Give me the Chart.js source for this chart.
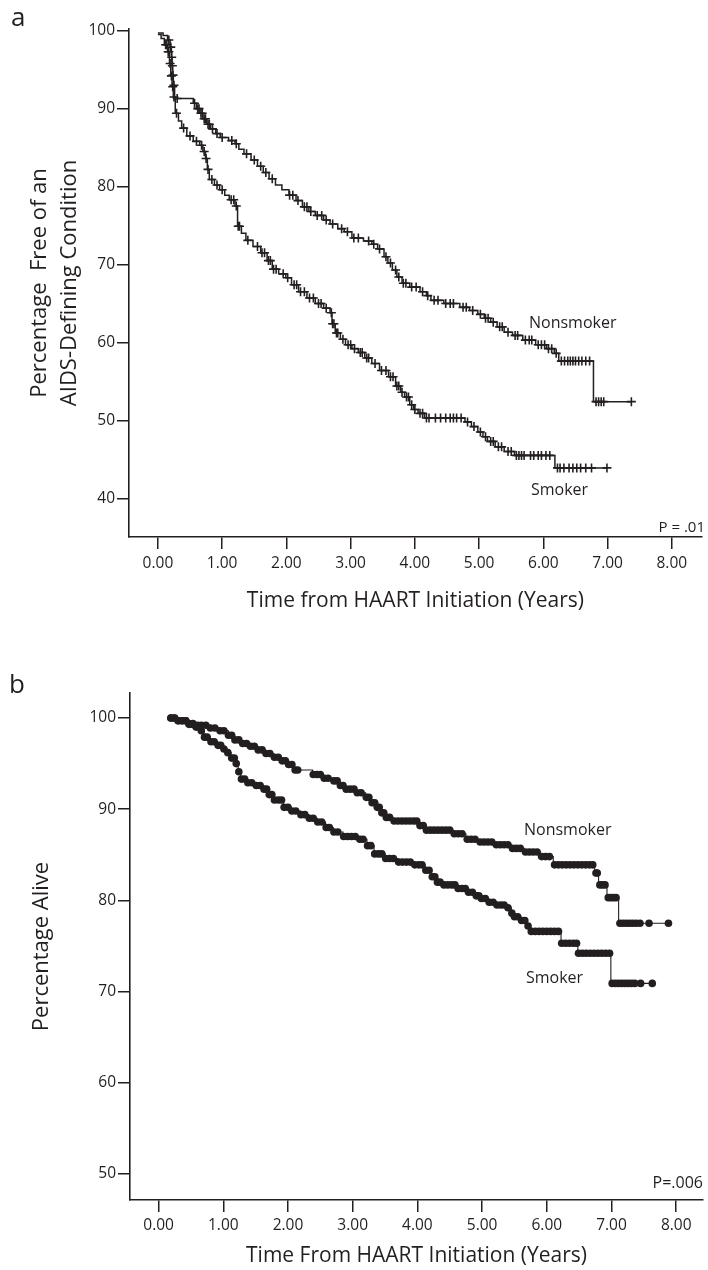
<!DOCTYPE html>
<html><head><meta charset="utf-8">
<script src="https://cdn.jsdelivr.net/npm/chart.js@4/dist/chart.umd.min.js"></script>
<style>
html,body{margin:0;padding:0;background:#fff;}
#wrap{position:relative;width:708px;height:1270px;overflow:hidden;font-family:"Open Sans",sans-serif;color:#231f20;}
canvas{position:absolute;left:0;}
.lbl{position:absolute;line-height:1;white-space:nowrap;}
</style></head><body>
<div id="wrap">
<canvas id="ca" width="708" height="630" style="top:0;width:708px;height:630px"></canvas>
<canvas id="cb" width="708" height="640" style="top:630px;width:708px;height:640px"></canvas>
<div class="lbl" style="left:11px;top:3px;font-size:26px">a</div>
<div class="lbl" style="left:9px;top:670px;font-size:26px">b</div>
<div class="lbl" style="left:529px;top:314px;font-size:16px">Nonsmoker</div>
<div class="lbl" style="left:531px;top:481px;font-size:16px">Smoker</div>
<div class="lbl" style="right:3px;top:519px;font-size:15px">P = .01</div>
<div class="lbl" style="left:524px;top:821px;font-size:16px">Nonsmoker</div>
<div class="lbl" style="left:526px;top:969px;font-size:16px">Smoker</div>
<div class="lbl" style="right:5px;top:1174px;font-size:16px">P=.006</div>
</div>
<script>
const INK = '#231f20';
const FONT = '"Open Sans", sans-serif';

// Shared x-axis ticks (years)
const xTicks = [0, 1, 2, 3, 4, 5, 6, 7, 8];
const xTickLabels = ['0.00', '1.00', '2.00', '3.00', '4.00', '5.00', '6.00', '7.00', '8.00'];

// Panel a y ticks
const yTicksA = [40, 50, 60, 70, 80, 90, 100];
const yTickLabelsA = ['40', '50', '60', '70', '80', '90', '100'];
// Panel b y ticks
const yTicksB = [50, 60, 70, 80, 90, 100];
const yTickLabelsB = ['50', '60', '70', '80', '90', '100'];

// Panel a: Kaplan-Meier steps [years, % free of AIDS-defining condition]
const nonsmokerA = [[0,99.7],[0.08,99.4],[0.15,98.8],[0.19,97.9],[0.21,96.6],[0.22,95.5],[0.23,94.3],[0.24,93.0],[0.26,91.3],[0.55,90.7],[0.60,90.0],[0.65,89.4],[0.70,88.7],[0.76,88.0],[0.82,87.4],[0.90,86.8],[0.97,86.3],[1.10,85.9],[1.20,85.5],[1.26,84.8],[1.34,84.2],[1.45,83.4],[1.55,82.6],[1.64,81.8],[1.73,81.0],[1.83,80.2],[1.93,79.6],[2.04,78.9],[2.15,78.2],[2.25,77.4],[2.35,76.8],[2.45,76.3],[2.58,75.7],[2.68,75.2],[2.80,74.6],[2.90,74.2],[3.02,73.4],[3.20,73.0],[3.33,72.6],[3.42,72.0],[3.52,71.0],[3.58,70.2],[3.65,69.3],[3.72,68.4],[3.80,67.6],[3.92,67.1],[4.08,66.5],[4.18,66.0],[4.25,65.4],[4.45,65.0],[4.70,64.5],[4.85,64.1],[4.98,63.6],[5.08,63.1],[5.18,62.6],[5.28,62.0],[5.39,61.3],[5.52,60.9],[5.68,60.3],[5.88,59.7],[6.05,59.2],[6.17,58.6],[6.24,57.6],[6.78,52.4],[7.37,52.4]];
const nonsmokerACensored = [[0.17,98.8],[0.20,97.9],[0.215,96.6],[0.225,95.5],[0.235,94.3],[0.25,93.0],[0.30,91.3],[0.57,90.7],[0.62,90.0],[0.64,90.0],[0.67,89.4],[0.69,89.4],[0.72,88.7],[0.74,88.7],[0.78,88.0],[0.80,88.0],[0.85,87.4],[0.92,86.8],[1.00,86.3],[1.15,85.9],[1.22,85.5],[1.38,84.2],[1.50,83.4],[1.60,82.6],[1.68,81.8],[1.78,81.0],[2.05,78.9],[2.10,78.9],[2.18,78.2],[2.28,77.4],[2.32,77.4],[2.38,76.8],[2.48,76.3],[2.55,76.3],[2.62,75.7],[2.72,75.2],[2.86,74.6],[2.95,74.2],[3.05,73.4],[3.12,73.4],[3.28,73.0],[3.36,72.6],[3.45,72.0],[3.55,71.0],[3.62,70.2],[3.70,69.3],[3.75,68.4],[3.82,67.6],[3.86,67.6],[3.95,67.1],[4.02,67.1],[4.12,66.5],[4.20,66.0],[4.30,65.4],[4.36,65.4],[4.48,65.0],[4.55,65.0],[4.60,65.0],[4.75,64.5],[4.80,64.5],[4.90,64.1],[5.02,63.6],[5.10,63.1],[5.14,63.1],[5.22,62.6],[5.32,62.0],[5.36,62.0],[5.45,61.3],[5.56,60.9],[5.60,60.9],[5.72,60.3],[5.78,60.3],[5.82,60.3],[5.92,59.7],[5.97,59.7],[6.02,59.7],[6.08,59.2],[6.13,59.2],[6.20,58.6],[6.28,57.6],[6.33,57.6],[6.38,57.6],[6.42,57.6],[6.46,57.6],[6.50,57.6],[6.55,57.6],[6.60,57.6],[6.66,57.6],[6.72,57.6],[6.82,52.4],[6.86,52.4],[6.90,52.4],[6.94,52.4],[7.37,52.4]];
const smokerA = [[0,99.5],[0.05,99.0],[0.10,98.2],[0.15,97.3],[0.18,95.8],[0.20,94.2],[0.22,92.8],[0.24,91.5],[0.27,89.4],[0.32,88.4],[0.37,87.5],[0.45,86.5],[0.55,85.8],[0.65,85.3],[0.70,84.5],[0.74,83.6],[0.77,82.2],[0.80,80.9],[0.88,80.2],[0.96,79.6],[1.04,78.9],[1.11,78.3],[1.20,77.5],[1.24,74.9],[1.30,74.0],[1.37,73.1],[1.48,72.3],[1.60,71.5],[1.70,70.5],[1.78,69.4],[1.88,68.8],[1.99,68.3],[2.08,67.4],[2.19,66.5],[2.32,65.7],[2.45,65.0],[2.58,64.4],[2.68,63.8],[2.71,62.4],[2.76,61.2],[2.84,60.4],[2.92,59.7],[3.02,59.2],[3.12,58.7],[3.22,58.0],[3.33,57.3],[3.45,56.4],[3.59,55.6],[3.70,54.4],[3.78,53.6],[3.84,53.0],[3.92,52.0],[3.98,51.4],[4.05,50.9],[4.15,50.3],[4.78,49.8],[4.88,49.2],[4.98,48.5],[5.06,47.9],[5.13,47.3],[5.25,46.6],[5.39,46.0],[5.55,45.5],[6.18,43.9],[6.99,43.9]];
const smokerACensored = [[0.12,98.2],[0.14,98.2],[0.16,97.3],[0.17,97.3],[0.19,95.8],[0.21,94.2],[0.23,92.8],[0.25,91.5],[0.29,89.4],[0.40,87.5],[0.50,86.5],[0.60,85.8],[0.68,85.3],[0.72,84.5],[0.75,83.6],[0.78,82.2],[0.84,80.9],[0.92,80.2],[1.00,79.6],[1.14,78.3],[1.18,78.3],[1.22,77.5],[1.25,74.9],[1.27,74.9],[1.40,73.1],[1.55,72.3],[1.62,71.5],[1.66,71.5],[1.72,70.5],[1.75,70.5],[1.80,69.4],[1.84,69.4],[1.95,68.8],[2.02,68.3],[2.12,67.4],[2.16,67.4],[2.22,66.5],[2.28,66.5],[2.36,65.7],[2.42,65.7],[2.50,65.0],[2.54,65.0],[2.62,64.4],[2.70,63.8],[2.72,62.4],[2.74,62.4],[2.78,61.2],[2.80,61.2],[2.88,60.4],[2.96,59.7],[3.00,59.7],[3.06,59.2],[3.15,58.7],[3.18,58.7],[3.25,58.0],[3.28,58.0],[3.38,57.3],[3.48,56.4],[3.55,56.4],[3.62,55.6],[3.66,55.6],[3.72,54.4],[3.75,54.4],[3.80,53.6],[3.87,53.0],[3.90,53.0],[3.95,52.0],[4.00,51.4],[4.08,50.9],[4.12,50.9],[4.18,50.3],[4.22,50.3],[4.32,50.3],[4.40,50.3],[4.48,50.3],[4.55,50.3],[4.60,50.3],[4.65,50.3],[4.72,50.3],[4.82,49.8],[4.92,49.2],[5.02,48.5],[5.10,47.9],[5.18,47.3],[5.22,47.3],[5.30,46.6],[5.35,46.6],[5.45,46.0],[5.50,46.0],[5.58,45.5],[5.62,45.5],[5.66,45.5],[5.70,45.5],[5.80,45.5],[5.85,45.5],[5.92,45.5],[5.97,45.5],[6.04,45.5],[6.10,45.5],[6.22,43.9],[6.26,43.9],[6.32,43.9],[6.40,43.9],[6.46,43.9],[6.52,43.9],[6.58,43.9],[6.66,43.9],[6.75,43.9],[6.99,43.9]];

// Panel b: Kaplan-Meier steps [years, % alive]
const nonsmokerB = [[0.19,100.0],[0.30,99.7],[0.45,99.4],[0.60,99.2],[0.80,98.9],[0.95,98.6],[1.08,98.1],[1.16,97.6],[1.28,97.2],[1.40,96.9],[1.52,96.5],[1.65,96.1],[1.78,95.7],[1.90,95.3],[2.00,94.9],[2.10,94.3],[2.38,93.8],[2.55,93.4],[2.70,93.1],[2.80,92.6],[2.88,92.2],[3.05,91.8],[3.20,91.3],[3.28,90.7],[3.36,90.2],[3.43,89.6],[3.50,89.1],[3.62,88.7],[4.02,88.2],[4.12,87.7],[4.55,87.3],[4.75,86.7],[4.95,86.4],[5.20,86.1],[5.45,85.7],[5.65,85.3],[5.90,84.8],[6.10,83.9],[6.74,83.0],[6.80,81.7],[6.93,80.3],[7.11,77.5],[7.88,77.5]];
const nonsmokerBCensored = [[0.19,100.0],[0.24,100.0],[0.30,99.7],[0.36,99.7],[0.42,99.7],[0.47,99.4],[0.53,99.4],[0.60,99.2],[0.66,99.2],[0.73,99.2],[0.80,98.9],[0.87,98.9],[0.95,98.6],[1.01,98.6],[1.08,98.1],[1.13,98.1],[1.18,97.6],[1.24,97.6],[1.30,97.2],[1.36,97.2],[1.42,96.9],[1.48,96.9],[1.54,96.5],[1.60,96.5],[1.66,96.1],[1.72,96.1],[1.79,95.7],[1.85,95.7],[1.91,95.3],[1.96,95.3],[2.01,94.9],[2.06,94.9],[2.11,94.3],[2.15,94.3],[2.39,93.8],[2.45,93.8],[2.50,93.8],[2.56,93.4],[2.62,93.4],[2.71,93.1],[2.76,93.1],[2.81,92.6],[2.85,92.6],[2.90,92.2],[2.96,92.2],[3.02,92.2],[3.07,91.8],[3.13,91.8],[3.21,91.3],[3.25,91.3],[3.30,90.7],[3.34,90.7],[3.38,90.2],[3.41,90.2],[3.45,89.6],[3.48,89.6],[3.52,89.1],[3.57,89.1],[3.64,88.7],[3.70,88.7],[3.76,88.7],[3.82,88.7],[3.88,88.7],[3.94,88.7],[3.99,88.7],[4.04,88.2],[4.09,88.2],[4.14,87.7],[4.20,87.7],[4.26,87.7],[4.32,87.7],[4.38,87.7],[4.44,87.7],[4.50,87.7],[4.57,87.3],[4.63,87.3],[4.69,87.3],[4.77,86.7],[4.83,86.7],[4.89,86.7],[4.97,86.4],[5.03,86.4],[5.09,86.4],[5.15,86.4],[5.22,86.1],[5.28,86.1],[5.34,86.1],[5.40,86.1],[5.47,85.7],[5.53,85.7],[5.59,85.7],[5.67,85.3],[5.73,85.3],[5.79,85.3],[5.85,85.3],[5.92,84.8],[5.98,84.8],[6.04,84.8],[6.12,83.9],[6.18,83.9],[6.24,83.9],[6.30,83.9],[6.36,83.9],[6.42,83.9],[6.48,83.9],[6.54,83.9],[6.60,83.9],[6.66,83.9],[6.71,83.9],[6.76,83.0],[6.78,83.0],[6.82,81.7],[6.86,81.7],[6.90,81.7],[6.95,80.3],[6.99,80.3],[7.03,80.3],[7.07,80.3],[7.13,77.5],[7.18,77.5],[7.23,77.5],[7.28,77.5],[7.33,77.5],[7.38,77.5],[7.44,77.5],[7.58,77.5],[7.88,77.5]];
const smokerB = [[0.19,100.0],[0.30,99.7],[0.45,99.3],[0.58,99.0],[0.65,98.6],[0.70,97.9],[0.80,97.4],[0.91,97.0],[1.00,96.6],[1.06,96.2],[1.12,95.6],[1.19,95.0],[1.23,94.1],[1.27,93.3],[1.37,92.9],[1.50,92.6],[1.62,92.2],[1.70,91.6],[1.78,91.0],[1.93,90.2],[2.05,89.8],[2.19,89.4],[2.32,89.0],[2.45,88.6],[2.58,88.0],[2.70,87.5],[2.85,87.0],[3.10,86.7],[3.22,86.0],[3.33,85.1],[3.50,84.6],[3.70,84.2],[3.95,83.9],[4.12,83.3],[4.22,82.6],[4.30,82.0],[4.40,81.7],[4.62,81.3],[4.78,80.9],[4.90,80.5],[4.98,80.2],[5.10,79.8],[5.22,79.5],[5.39,79.2],[5.45,78.6],[5.49,78.2],[5.60,77.8],[5.70,77.2],[5.75,76.6],[6.22,75.3],[6.48,74.2],[6.99,70.9],[7.63,70.9]];
const smokerBCensored = [[0.19,100.0],[0.25,100.0],[0.31,99.7],[0.37,99.7],[0.42,99.7],[0.47,99.3],[0.52,99.3],[0.58,99.0],[0.62,99.0],[0.66,98.6],[0.71,97.9],[0.75,97.9],[0.81,97.4],[0.86,97.4],[0.92,97.0],[0.96,97.0],[1.01,96.6],[1.07,96.2],[1.13,95.6],[1.17,95.6],[1.20,95.0],[1.24,94.1],[1.28,93.3],[1.33,93.3],[1.38,92.9],[1.44,92.9],[1.51,92.6],[1.57,92.6],[1.63,92.2],[1.67,92.2],[1.71,91.6],[1.75,91.6],[1.79,91.0],[1.85,91.0],[1.90,91.0],[1.94,90.2],[2.00,90.2],[2.06,89.8],[2.12,89.8],[2.20,89.4],[2.26,89.4],[2.33,89.0],[2.39,89.0],[2.46,88.6],[2.52,88.6],[2.59,88.0],[2.64,88.0],[2.71,87.5],[2.77,87.5],[2.86,87.0],[2.92,87.0],[2.98,87.0],[3.04,87.0],[3.11,86.7],[3.16,86.7],[3.23,86.0],[3.28,86.0],[3.34,85.1],[3.40,85.1],[3.45,85.1],[3.51,84.6],[3.57,84.6],[3.63,84.6],[3.71,84.2],[3.77,84.2],[3.83,84.2],[3.89,84.2],[3.96,83.9],[4.02,83.9],[4.07,83.9],[4.13,83.3],[4.18,83.3],[4.23,82.6],[4.27,82.6],[4.31,82.0],[4.35,82.0],[4.41,81.7],[4.47,81.7],[4.53,81.7],[4.58,81.7],[4.63,81.3],[4.69,81.3],[4.74,81.3],[4.79,80.9],[4.85,80.9],[4.91,80.5],[4.95,80.5],[4.99,80.2],[5.05,80.2],[5.11,79.8],[5.17,79.8],[5.23,79.5],[5.29,79.5],[5.34,79.5],[5.40,79.2],[5.46,78.6],[5.50,78.2],[5.55,78.2],[5.61,77.8],[5.66,77.8],[5.71,77.2],[5.76,76.6],[5.82,76.6],[5.88,76.6],[5.94,76.6],[6.00,76.6],[6.06,76.6],[6.12,76.6],[6.18,76.6],[6.23,75.3],[6.29,75.3],[6.35,75.3],[6.41,75.3],[6.46,75.3],[6.49,74.2],[6.55,74.2],[6.61,74.2],[6.67,74.2],[6.73,74.2],[6.79,74.2],[6.85,74.2],[6.91,74.2],[6.97,74.2],[7.01,70.9],[7.06,70.9],[7.11,70.9],[7.16,70.9],[7.21,70.9],[7.26,70.9],[7.31,70.9],[7.36,70.9],[7.45,70.9],[7.63,70.9]];

function pts(arr) { return arr.map(p => ({ x: p[0], y: p[1] })); }

function scale(c) {
  const left = c.pos === 'left';
  return {
    type: 'linear', position: c.pos, min: c.min, max: c.max,
    afterBuildTicks: a => { a.ticks = c.ticks.map(v => ({ value: v })); },
    afterFit: s => { if (left) s.width = c.size; else s.height = c.size; },
    ticks: { autoSkip: false, maxRotation: 0, minRotation: 0, color: INK,
             font: { family: FONT, size: 15.5 }, padding: c.tickPad,
             callback: (v, i) => c.labels[i] },
    grid: { display: true, drawOnChartArea: false, drawTicks: true, tickLength: 12,
            tickColor: INK, tickWidth: 1.5, color: INK, lineWidth: 1.5 },
    border: { display: true, color: INK, width: 1.6 },
    title: { display: true, text: c.title, color: INK,
             font: { family: FONT, size: c.titleSize, lineHeight: c.titleLH },
             padding: { top: c.titlePad, bottom: c.titlePad } }
  };
}

function stepLine(data, w) {
  return { data: pts(data), stepped: 'before', borderColor: INK, borderWidth: w,
           pointRadius: 0, fill: false };
}
function marks(data, style, r) {
  return { data: pts(data), showLine: false, pointStyle: style, pointRadius: r,
           borderColor: INK, backgroundColor: INK,
           pointBorderWidth: style === 'cross' ? 1.6 : 0, pointBackgroundColor: INK };
}

const baseOptions = {
  responsive: false, animation: false, events: [],
  plugins: { legend: { display: false }, tooltip: { enabled: false } }
};

new Chart(document.getElementById('ca'), {
  type: 'line',
  data: { datasets: [
    stepLine(nonsmokerA, 1.5), stepLine(smokerA, 1.5),
    marks(nonsmokerACensored, 'cross', 4.5), marks(smokerACensored, 'cross', 4.5)
  ] },
  options: Object.assign({}, baseOptions, {
    layout: { padding: { top: 29, right: 2, left: 0, bottom: 0 } },
    scales: {
      x: scale({ pos: 'bottom', min: -0.45, max: 8.468, ticks: xTicks, labels: xTickLabels,
                 size: 93, tickPad: 5, title: 'Time from HAART Initiation (Years)',
                 titleSize: 21, titleLH: 1.2, titlePad: 16 }),
      y: scale({ pos: 'left', min: 35.03, max: 100.22, ticks: yTicksA, labels: yTickLabelsA,
                 size: 129, tickPad: 2, title: ['Percentage  Free of an', 'AIDS-Defining Condition'],
                 titleSize: 22, titleLH: '30px', titlePad: 25 })
    }
  })
});

new Chart(document.getElementById('cb'), {
  type: 'line',
  data: { datasets: [
    stepLine(nonsmokerB, 1.1), stepLine(smokerB, 1.1),
    marks(nonsmokerBCensored, 'circle', 3.8), marks(smokerBCensored, 'circle', 3.8)
  ] },
  options: Object.assign({}, baseOptions, {
    layout: { padding: { top: 63, right: 5, left: 0, bottom: 0 } },
    scales: {
      x: scale({ pos: 'bottom', min: -0.442, max: 8.414, ticks: xTicks, labels: xTickLabels,
                 size: 70, tickPad: 4, title: 'Time From HAART Initiation (Years)',
                 titleSize: 21, titleLH: 1.2, titlePad: 1.4 }),
      y: scale({ pos: 'left', min: 47.15, max: 102.74, ticks: yTicksB, labels: yTickLabelsB,
                 size: 130, tickPad: 2, title: 'Percentage Alive',
                 titleSize: 22, titleLH: 1.2, titlePad: 29 })
    }
  })
});
</script>
</body></html>
